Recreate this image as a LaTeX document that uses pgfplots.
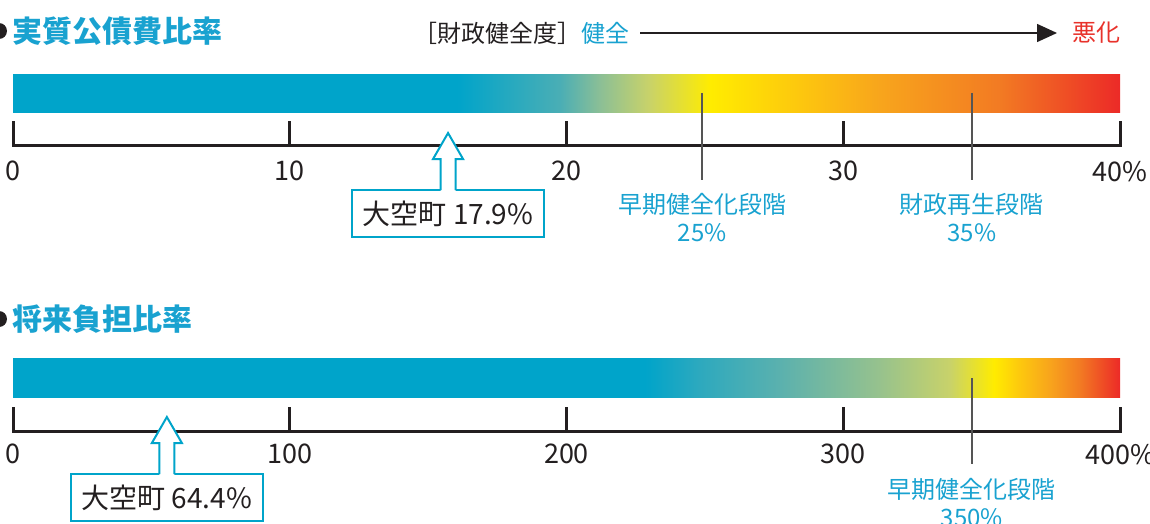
\documentclass[border=0pt]{standalone}
\usepackage{fontspec}
\setmainfont{Noto Sans CJK JP}
\usepackage{pgfplots}
\pgfplotsset{compat=1.18}
\usetikzlibrary{arrows.meta}

\definecolor{gcyan}{HTML}{00A4CA}
\definecolor{tcyan}{HTML}{19A2D0}
\definecolor{gdark}{HTML}{231F20}
\definecolor{gline}{HTML}{555555}
\definecolor{tred}{HTML}{E8322B}
\definecolor{gA1}{HTML}{4AAEB5}
\definecolor{gA2}{HTML}{8BBF96}
\definecolor{gA3}{HTML}{C8D26A}
\definecolor{gyel}{HTML}{FFEC00}
\definecolor{ggold}{HTML}{FDC70E}
\definecolor{gora}{HTML}{F8A51C}
\definecolor{gdora}{HTML}{F27A23}
\definecolor{gred}{HTML}{EC2A27}
\definecolor{gB1}{HTML}{2DA9BE}
\definecolor{gB2}{HTML}{5BB1AE}
\definecolor{gB3}{HTML}{97C28D}

% path bbox maps to 25bp..75bp
\pgfdeclarehorizontalshading{gaugeA}{100bp}{color(0bp)=(gcyan); color(45.05bp)=(gcyan);
  color(49.7bp)=(gA1); color(51.5bp)=(gA2); color(53.7bp)=(gA3); color(56.5bp)=(gyel);
  color(60.55bp)=(ggold); color(64.15bp)=(gora); color(69.6bp)=(gdora);
  color(75bp)=(gred); color(100bp)=(gred)}
\pgfdeclarehorizontalshading{gaugeB}{100bp}{color(0bp)=(gcyan); color(53.55bp)=(gcyan);
  color(56bp)=(gB1); color(59.65bp)=(gB2); color(64.15bp)=(gB3); color(67.3bp)=(gA3);
  color(69.3bp)=(gyel); color(70.5bp)=(ggold); color(71.8bp)=(gora); color(73.2bp)=(gdora);
  color(75bp)=(gred); color(100bp)=(gred)}

% up arrow with callout box, tip at the data point
\pgfdeclareplotmark{gaugepin}{%
  \pgfpathrectangle{\pgfpoint{-48pt}{-52pt}}{\pgfpoint{96pt}{23.5pt}}%
  \pgfusepath{fill,stroke}%
  \pgfpathmoveto{\pgfpoint{-3.75pt}{-29.2pt}}%
  \pgfpathlineto{\pgfpoint{-3.75pt}{-13pt}}%
  \pgfpathlineto{\pgfpoint{-7.5pt}{-13pt}}%
  \pgfpathlineto{\pgfpoint{0pt}{0pt}}%
  \pgfpathlineto{\pgfpoint{7.5pt}{-13pt}}%
  \pgfpathlineto{\pgfpoint{3.75pt}{-13pt}}%
  \pgfpathlineto{\pgfpoint{3.75pt}{-29.2pt}}%
  \pgfpathclose
  \pgfusepath{fill}%
  \pgfpathmoveto{\pgfpoint{-3.75pt}{-28.5pt}}%
  \pgfpathlineto{\pgfpoint{-3.75pt}{-13pt}}%
  \pgfpathlineto{\pgfpoint{-7.5pt}{-13pt}}%
  \pgfpathlineto{\pgfpoint{0pt}{0pt}}%
  \pgfpathlineto{\pgfpoint{7.5pt}{-13pt}}%
  \pgfpathlineto{\pgfpoint{3.75pt}{-13pt}}%
  \pgfpathlineto{\pgfpoint{3.75pt}{-28.5pt}}%
  \pgfusepath{stroke}%
}

\pgfplotsset{
  gauge/.style={
    scale only axis, width=553.5pt, xmin=0, clip=false,
    axis x line*=bottom, axis y line=none, ytick=\empty,
    axis line style={line width=1.5pt, draw=gdark, line cap=rect},
    tick align=inside, major tick length=12pt,
    tick style={line width=1.5pt, draw=gdark},
    xticklabel style={font=\fontsize{13.5}{13.5}\selectfont, text=gdark, yshift=-4.5pt},
  },
  pin/.style={only marks, mark=gaugepin,
    mark options={draw=gcyan, fill=white, line width=1pt, line join=miter},
    nodes near coords={#1},
    nodes near coords style={anchor=center, yshift=-40.25pt, inner sep=0pt,
      text=gdark, font=\fontsize{14}{14}\selectfont}},
  thr/.style={line width=0.7pt, draw=gline},
}
\tikzset{
  lab/.style={align=center, inner sep=0pt, text=tcyan, font=\fontsize{12}{14}\selectfont},
}

\begin{document}
\begin{tikzpicture}
\useasboundingbox (0,0) rectangle (575pt,-262pt);

\begin{scope}[x=0.5pt, y=-0.5pt]
  \fill[gdark] (-1,31) circle[radius=8];
  \node[anchor=west, inner sep=0pt, text=tcyan, font=\fontsize{15}{15}\selectfont\bfseries] at (12,31) {実質公債費比率};
  \node[anchor=west, inner sep=0pt, font=\fontsize{12}{12}\selectfont] at (413,33)
    {\textcolor{gdark}{［財政健全度］}\textcolor{tcyan}{健全}};
  \draw[gdark, line width=0.75pt, -{Triangle[length=10pt, width=9pt]}] (640,33) -- (1057,33);
  \node[anchor=east, inner sep=0pt, text=tred, font=\fontsize{12}{12}\selectfont] at (1121,33) {悪化};
  \fill[gdark] (-1,319) circle[radius=8];
  \node[anchor=west, inner sep=0pt, text=tcyan, font=\fontsize{15}{15}\selectfont\bfseries] at (12,319) {将来負担比率};
\end{scope}

% 実質公債費比率 (0-40%)
\begin{axis}[gauge, at={(6.5pt,-72.5pt)}, anchor=south west,
  height=35pt, xmax=40, ymin=-145, ymax=-75,
  xtick={0,10,20,30,40}, xticklabels={0,10,20,30,40\%}]
  \addplot[draw=none, shade, shading=gaugeA] coordinates {(0,-113) (0,-75) (40,-75) (40,-113)};
  \addplot[thr] coordinates {(24.9,-93) (24.9,-180)};
  \addplot[thr] coordinates {(34.65,-93) (34.65,-180)};
  \node[lab] at (axis cs:24.9,-218) {早期健全化段階\\25\%};
  \node[lab] at (axis cs:34.65,-218) {財政再生段階\\35\%};
  \addplot[pin={大空町\ 17.9\%}] coordinates {(15.72,-133)};
\end{axis}

% 将来負担比率 (0-400%)
\begin{axis}[gauge, at={(6.5pt,-215.5pt)}, anchor=south west,
  height=36.5pt, xmax=400, ymin=-431, ymax=-358,
  xtick={0,100,200,300,400}, xticklabels={0,100,200,300,400\%},
  xticklabel style={yshift=1.5pt}]
  \addplot[draw=none, shade, shading=gaugeB] coordinates {(0,-397) (0,-358) (400,-358) (400,-397)};
  \addplot[thr] coordinates {(346.5,-378) (346.5,-464)};
  \node[lab] at (axis cs:346.5,-503) {早期健全化段階\\350\%};
  \addplot[pin={大空町\ 64.4\%}] coordinates {(55.6,-417)};
\end{axis}
\end{tikzpicture}
\end{document}
